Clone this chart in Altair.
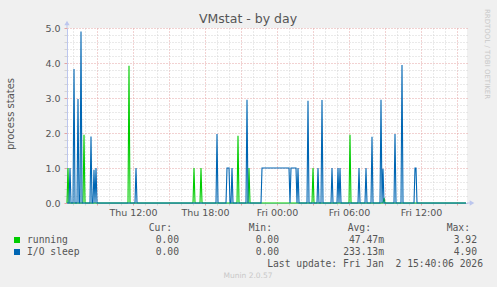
import altair as alt
import pandas as pd

# ---------------- data ----------------
running_times = [
    "2026-01-01T06:35", "2026-01-01T07:55", "2026-01-01T11:40",
    "2026-01-01T17:05", "2026-01-01T17:40", "2026-01-01T20:45",
    "2026-01-01T21:40", "2026-01-02T03:00", "2026-01-02T06:05",
    "2026-01-02T08:55",
]
running_values = [1.0, 1.95, 3.92, 1.0, 1.0, 1.92, 1.0, 1.0, 1.95, 0.15]

io_times = [
    "2026-01-01T06:45", "2026-01-01T07:05", "2026-01-01T07:25", "2026-01-01T07:40",
    "2026-01-01T08:30", "2026-01-01T08:45", "2026-01-01T08:55", "2026-01-01T12:15",
    "2026-01-01T19:00", "2026-01-01T19:50", "2026-01-01T19:55", "2026-01-01T20:00",
    "2026-01-01T20:15", "2026-01-01T21:30",
    "2026-01-01T22:45", "2026-01-01T22:50", "2026-01-01T22:55", "2026-01-01T23:00",
    "2026-01-01T23:05", "2026-01-01T23:10", "2026-01-01T23:15", "2026-01-01T23:20",
    "2026-01-01T23:25", "2026-01-01T23:30", "2026-01-01T23:35", "2026-01-01T23:40",
    "2026-01-01T23:45", "2026-01-01T23:50", "2026-01-01T23:55", "2026-01-02T00:00",
    "2026-01-02T00:05", "2026-01-02T00:10", "2026-01-02T00:15", "2026-01-02T00:20",
    "2026-01-02T00:25", "2026-01-02T00:30", "2026-01-02T00:35", "2026-01-02T00:40",
    "2026-01-02T00:45", "2026-01-02T00:50", "2026-01-02T00:55", "2026-01-02T01:00",
    "2026-01-02T01:10", "2026-01-02T01:15", "2026-01-02T01:20", "2026-01-02T01:25",
    "2026-01-02T01:30", "2026-01-02T01:35",
    "2026-01-02T01:45", "2026-01-02T02:35", "2026-01-02T03:25", "2026-01-02T03:45",
    "2026-01-02T04:35", "2026-01-02T05:05", "2026-01-02T05:15", "2026-01-02T06:50",
    "2026-01-02T07:25", "2026-01-02T07:55", "2026-01-02T08:40", "2026-01-02T08:50",
    "2026-01-02T09:50", "2026-01-02T10:25", "2026-01-02T11:30", "2026-01-02T11:35",
]
io_values = [
    1.0, 3.83, 2.97, 4.90,
    1.9, 0.95, 1.0, 1.0,
    1.97, 1.0, 1.0, 1.0,
    1.0, 2.95,
    1.0, 1.0, 1.0, 1.0, 1.0, 1.0, 1.0, 1.0, 1.0, 1.0, 1.0, 1.0, 1.0, 1.0,
    1.0, 1.0, 1.0, 1.0, 1.0, 1.0, 1.0, 1.0, 1.0, 1.0, 1.0, 1.0, 1.0, 1.0,
    1.0, 1.0, 1.0, 1.0, 1.0, 1.0,
    1.0, 2.92, 1.0, 2.94,
    1.0, 1.0, 1.0, 1.0,
    1.0, 1.89, 2.95, 0.98,
    1.97, 3.94, 1.0, 1.0,
]

series_names = ["running", "I/O sleep"]
series_colors = ["#00CC00", "#0066B3"]
cur_vals = ["0.00", "0.00"]
min_vals = ["0.00", "0.00"]
avg_vals = ["47.47m", "233.13m"]
max_vals = ["3.92", "4.90"]

start = "2026-01-01T06:30"
end = "2026-01-02T15:50"

# ---------------- tables ----------------
samples = pd.date_range(start, "2026-01-02T15:45", freq="5min")
def build(times, values, name, order):
    m = {pd.Timestamp(t): v for t, v in zip(times, values)}
    return pd.DataFrame({
        "t": samples,
        "v": [m.get(s, 0.0) for s in samples],
        "s": name,
        "o": order,
    })

df = pd.concat([build(running_times, running_values, "running", 0),
                build(io_times, io_values, "I/O sleep", 1)])

hours = pd.date_range("2026-01-01T07:00", "2026-01-02T15:00", freq="1h")
x_ticks = [alt.DateTime(year=h.year, month=h.month, date=h.day, hours=h.hour) for h in hours]
y_ticks = [round(i * 0.2, 1) for i in range(26)]

TXT = "#555555"
AX = "#BCC6EE"
MAJ = "#E4A4A4"
MIN = "#D4D4D4"
W, H = 400, 175
L, T = 67, 28

xscale = alt.Scale(domain=[alt.DateTime(year=2026, month=1, date=1, hours=6, minutes=30),
                           alt.DateTime(year=2026, month=1, date=2, hours=15, minutes=50)],
                   nice=False)
yscale = alt.Scale(domain=[0, 5], nice=False)

xaxis = alt.Axis(
    values=x_ticks, title=None,
    labelExpr="hours(datum.value) % 6 == 0 ? timeFormat(datum.value, '%a %H:%M') : ''",
    labelFont="DejaVu Sans", labelFontSize=9.5, labelColor=TXT, labelPadding=2,
    labelFlush=False, labelOverlap=False,
    grid=True, gridDash=[1, 2], gridWidth=1,
    gridColor={"condition": {"test": "hours(datum.value) % 3 == 0", "value": MAJ}, "value": MIN},
    tickColor={"condition": {"test": "hours(datum.value) % 3 == 0", "value": MAJ}, "value": MIN},
    tickSize=2, domainColor=AX, domainWidth=1,
)
yaxis = alt.Axis(
    values=y_ticks, title=None,
    labelExpr="datum.value % 1 == 0 ? format(datum.value, '.1f') : ''",
    labelFont="DejaVu Sans", labelFontSize=9.5, labelColor=TXT, labelPadding=4,
    labelFlush=False, labelOverlap=False, labelBaseline="middle",
    grid=True, gridDash=[1, 2], gridWidth=1,
    gridColor={"condition": {"test": "datum.value % 1 == 0", "value": MAJ}, "value": MIN},
    tickColor={"condition": {"test": "datum.value % 1 == 0", "value": MAJ}, "value": MIN},
    tickSize=3, domainColor=AX, domainWidth=1,
)

lines = alt.Chart(df).mark_line(strokeWidth=1.1, interpolate="linear").encode(
    x=alt.X("t:T", scale=xscale, axis=xaxis),
    y=alt.Y("v:Q", scale=yscale, axis=yaxis),
    color=alt.Color("s:N", scale=alt.Scale(domain=series_names, range=series_colors), legend=None),
    order=alt.Order("o:Q"),
    detail="s:N",
)

one = pd.DataFrame({"a": [0]})

def txt(text, x, y, size=9.7, font="DejaVu Sans Mono", align="left", color=TXT, angle=0, baseline="middle"):
    kw = dict(align=align, baseline=baseline, font=font, fontSize=size, color=color)
    if angle:
        kw["angle"] = angle
    return alt.Chart(one).mark_text(**kw).encode(
        x=alt.value(x - L), y=alt.value(y - T), text=alt.value(text))

layers = [lines]
# axis extensions and arrows
layers.append(alt.Chart(one).mark_rule(color=AX, strokeWidth=1).encode(
    x=alt.value(0), y=alt.value(-5), y2=alt.value(0)))
layers.append(alt.Chart(one).mark_rule(color=AX, strokeWidth=1).encode(
    x=alt.value(W), x2=alt.value(W + 4), y=alt.value(H)))
layers.append(alt.Chart(one).mark_point(shape="triangle-up", filled=True, size=28, color=AX, opacity=1).encode(
    x=alt.value(0), y=alt.value(-5)))
layers.append(alt.Chart(one).mark_point(shape="triangle-right", filled=True, size=28, color=AX, opacity=1).encode(
    x=alt.value(W + 5), y=alt.value(H)))

# titles
layers.append(txt("VMstat - by day", 248, 19, size=12.5, font="DejaVu Sans", align="center"))
layers.append(txt("process states", 11, 114, size=10, font="DejaVu Sans", align="center", angle=270))
layers.append(txt("RRDTOOL / TOBI OETIKER", 487, 54, size=7, font="DejaVu Sans", align="center",
                  color="#C8C8C8", angle=90))

# legend header
layers.append(txt("Cur:", 172, 227.5, align="right"))
layers.append(txt("Min:", 272, 227.5, align="right"))
layers.append(txt("Avg:", 371, 227.5, align="right"))
layers.append(txt("Max:", 470, 227.5, align="right"))

row_y = [240, 252]
for i in range(2):
    y = row_y[i]
    layers.append(alt.Chart(one).mark_point(shape="square", filled=True, size=36,
                                            color=series_colors[i], opacity=1).encode(
        x=alt.value(17 - L), y=alt.value(y - T)))
    layers.append(txt(series_names[i], 27, y))
    layers.append(txt(cur_vals[i], 179, y, align="right"))
    layers.append(txt(min_vals[i], 279, y, align="right"))
    layers.append(txt(avg_vals[i], 384, y, align="right"))
    layers.append(txt(max_vals[i], 477, y, align="right"))

layers.append(txt("Last update: Fri Jan \u00a02 15:40:06 2026", 483, 263.5, align="right"))
layers.append(txt("Munin 2.0.57", 248, 276, size=7.5, font="DejaVu Sans", align="center", color="#C8C8C8"))

chart = alt.layer(*layers).properties(
    width=W, height=H,
    autosize=alt.AutoSizeParams(type="none"),
    padding={"left": L, "top": T, "right": 497 - L - W, "bottom": 287 - T - H},
    background="#F0F0F0",
).configure_view(stroke=None, fill="#FFFFFF")

chart.save("out.html", embed_options={"renderer": "svg", "actions": False})
